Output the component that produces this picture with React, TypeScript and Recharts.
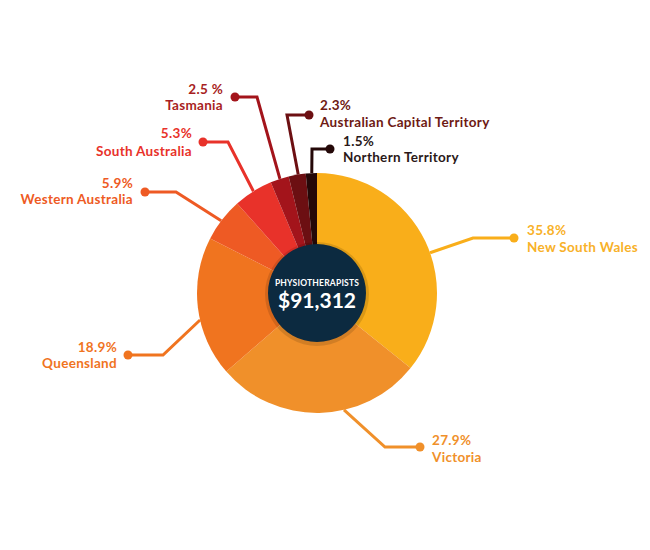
import React from 'react';
import { PieChart, Pie, Cell } from 'recharts';

// physiotherapist wages by state, share of total
const regions = [
	'New South Wales',
	'Victoria',
	'Queensland',
	'Western Australia',
	'South Australia',
	'Tasmania',
	'Australian Capital Territory',
	'Northern Territory',
];
const shares = [35.8, 27.9, 18.9, 5.9, 5.3, 2.5, 2.3, 1.5];
const shareLabels = ['35.8%', '27.9%', '18.9%', '5.9%', '5.3%', '2.5 %', '2.3%', '1.5%'];
const centerTitle = 'PHYSIOTHERAPISTS';
const centerValue = '$91,312';

const sliceColors = ['#F9AE1A', '#F0902A', '#F0741F', '#EE5A24', '#E8322A', '#A3141B', '#6C0F12', '#240808'];
const textColors = ['#F8B128', '#F0902A', '#F0741F', '#EE5A24', '#E8322A', '#A81E22', '#6E1A14', '#2A1818'];

// leader line layout: angle where it meets the pie, elbow, end dot, text side
const callouts = [
	{ angle: 19.6, elbow: [473, 238], dot: [514, 238], tx: 527, anchor: 'start', y1: 230, y2: 247 },
	{ angle: -77, elbow: [385, 447], dot: [420, 447], tx: 432, anchor: 'start', y1: 440, y2: 457 },
	{ angle: 193, elbow: [163, 355], dot: [128, 355], tx: 117, anchor: 'end', y1: 347, y2: 363 },
	{ angle: 143, elbow: [176, 192], dot: [145, 192], tx: 133, anchor: 'end', y1: 183, y2: 199 },
	{ angle: 122, elbow: [228, 142], dot: [203, 142], tx: 192, anchor: 'end', y1: 133, y2: 151 },
	{ angle: 108, elbow: [257, 97], dot: [235, 97], tx: 223, anchor: 'end', y1: 89, y2: 105 },
	{ angle: 99, elbow: [287, 115], dot: [309, 115], tx: 320, anchor: 'start', y1: 105, y2: 122 },
	{ angle: 92.5, elbow: [312, 149], dot: [330, 149], tx: 343, anchor: 'start', y1: 141, y2: 157 },
];

const FONT = 'Lato, "Open Sans", sans-serif';
const RAD = Math.PI / 180;

const data = regions.map((name, i) => ({ name, value: shares[i] }));

function renderCallout(props: any) {
	const { cx, cy, outerRadius, index } = props;
	const c = callouts[index];
	const sx = cx + outerRadius * Math.cos(c.angle * RAD);
	const sy = cy - outerRadius * Math.sin(c.angle * RAD);
	const color = sliceColors[index];
	return (
		<g key={'callout-' + index}>
			<polyline
				points={`${sx},${sy} ${c.elbow[0]},${c.elbow[1]} ${c.dot[0]},${c.dot[1]}`}
				fill="none"
				stroke={color}
				strokeWidth={3}
			/>
			<circle cx={c.dot[0]} cy={c.dot[1]} r={4.5} fill={color} />
			<text x={c.tx} y={c.y1} textAnchor={c.anchor} dominantBaseline="central" fill={textColors[index]} fontSize={13.5} fontWeight={700} fontFamily={FONT} letterSpacing={0.3}>
				{shareLabels[index]}
			</text>
			<text x={c.tx} y={c.y2} textAnchor={c.anchor} dominantBaseline="central" fill={textColors[index]} fontSize={13.5} fontWeight={700} fontFamily={FONT} letterSpacing={0.3}>
				{regions[index]}
			</text>
		</g>
	);
}

function renderCenter(props: any) {
	const { cx, cy } = props;
	return (
		<g key="center-text">
			<text x={cx} y={cy - 10} textAnchor="middle" dominantBaseline="central" fill="#ffffff" fontSize={8.5} fontWeight={700} fontFamily={FONT} letterSpacing={0.2}>
				{centerTitle}
			</text>
			<text x={cx} y={cy + 6} textAnchor="middle" dominantBaseline="central" fill="#ffffff" fontSize={21} fontWeight={700} fontFamily={FONT}>
				{centerValue}
			</text>
		</g>
	);
}

export default function App() {
	return (
		<div style={{ position: 'absolute', left: 0, top: 0, width: 650, height: 550, background: '#ffffff' }}>
			<PieChart width={650} height={550} margin={{ top: 0, right: 0, bottom: 0, left: 0 }}>
				<Pie
					data={data}
					dataKey="value"
					nameKey="name"
					cx={317}
					cy={293}
					innerRadius={0}
					outerRadius={120}
					startAngle={90}
					endAngle={-270}
					stroke="none"
					label={renderCallout}
					labelLine={false}
					isAnimationActive={false}
				>
					{data.map((d, i) => (
						<Cell key={d.name} fill={sliceColors[i]} />
					))}
				</Pie>
				{/* soft shadow behind the centre disc */}
				<Pie
					data={[{ name: 'shadow', value: 1 }]}
					dataKey="value"
					cx={317}
					cy={294}
					innerRadius={0}
					outerRadius={52}
					fill="#000000"
					fillOpacity={0.12}
					stroke="none"
					isAnimationActive={false}
				/>
				<Pie
					data={[{ name: 'center', value: 1 }]}
					dataKey="value"
					cx={317}
					cy={293}
					innerRadius={0}
					outerRadius={49}
					startAngle={90}
					endAngle={-270}
					fill="#0C2A40"
					stroke="none"
					label={renderCenter}
					labelLine={false}
					isAnimationActive={false}
				/>
			</PieChart>
		</div>
	);
}
